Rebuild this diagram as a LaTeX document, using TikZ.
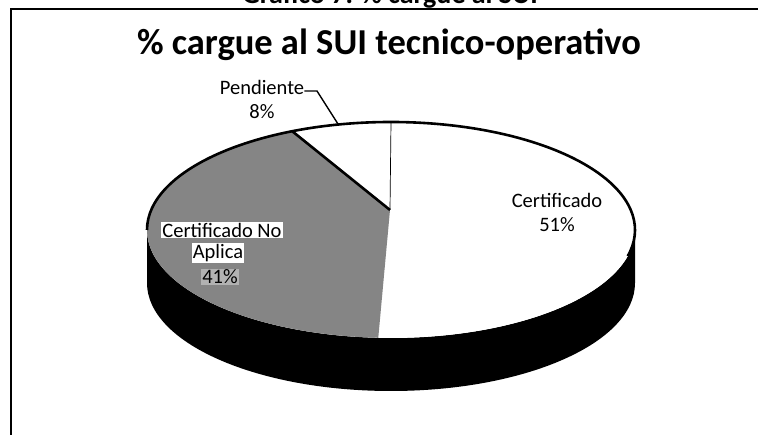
\documentclass[tikz,border=0pt]{standalone}
\usepackage{fontspec}
\setmainfont{Carlito}
\begin{document}
\begin{tikzpicture}[x=1pt,y=1pt,
  lbl/.style={font=\fontsize{20.5}{24}\selectfont, align=center, inner sep=0pt},
  lblbox/.style={lbl, fill=white, inner sep=1pt},
  frameline/.style={line width=2pt, black},
  rim/.style={line width=2.6pt, black},
  leader/.style={line width=1.4pt, black},
  grayslice/.style={fill=black!48},
  whiteslice/.style={fill=white}]
\useasboundingbox (0,0) rectangle (758,435);
\clip (0,0) rectangle (758,435);
% caption cut off at top
\node[font=\bfseries\fontsize{28}{30}\selectfont, anchor=base, inner sep=0pt] (caption) at (390,431) {Gráfico 7. \% cargue al SUI};
% frame
\draw[frameline] (758,426) -- (11,426) -- (11,0);
% title
\node[font=\bfseries\fontsize{36.5}{40}\selectfont, inner sep=0pt] (title) at (389,390) {\% cargue al SUI tecnico-operativo};
% pie geometry
\coordinate (P) at (390,225);
\coordinate (topP) at (391,313);
\coordinate (pendP) at (292.2,303.8);
% side wall
\fill[black] (147,205) arc[start angle=180,end angle=360,x radius=244,y radius=108]
  -- (635,152) arc[start angle=0,end angle=-180,x radius=244,y radius=108] -- cycle;
% slices
\fill[whiteslice] (P) -- (topP) arc[start angle=90,end angle=-93,x radius=244,y radius=108] -- cycle;
\fill[whiteslice] (P) -- (topP) arc[start angle=90,end angle=113.9,x radius=244,y radius=108] -- cycle;
\fill[grayslice] (P) -- (pendP) arc[start angle=113.9,end angle=267,x radius=244,y radius=108] -- cycle;
% rim outline
\draw[rim] (147,205) arc[start angle=180,end angle=-14,x radius=244,y radius=108];
\draw[rim] (pendP) -- (P);
\draw[line width=0.7pt] (topP) -- (P);
% labels
\node[lbl] (lPend) at (262,336) {Pendiente\\8\%};
\node[lbl] (lCert) at (557,222.5) {Certificado\\51\%};
\node[lblbox] (lNo1) at (222,205) {Certificado No};
\node[lblbox] (lNo2) at (218,182) {Aplica};
\node[lblbox, fill=white!70!black] (lNo3) at (220,158) {41\%};
% leader for Pendiente
\coordinate (pendEdge) at (338,311);
\coordinate (pendBend) at (317,344);
\draw[leader] (pendEdge) -- (pendBend) -- (lPend.east |- pendBend);
\end{tikzpicture}
\end{document}
